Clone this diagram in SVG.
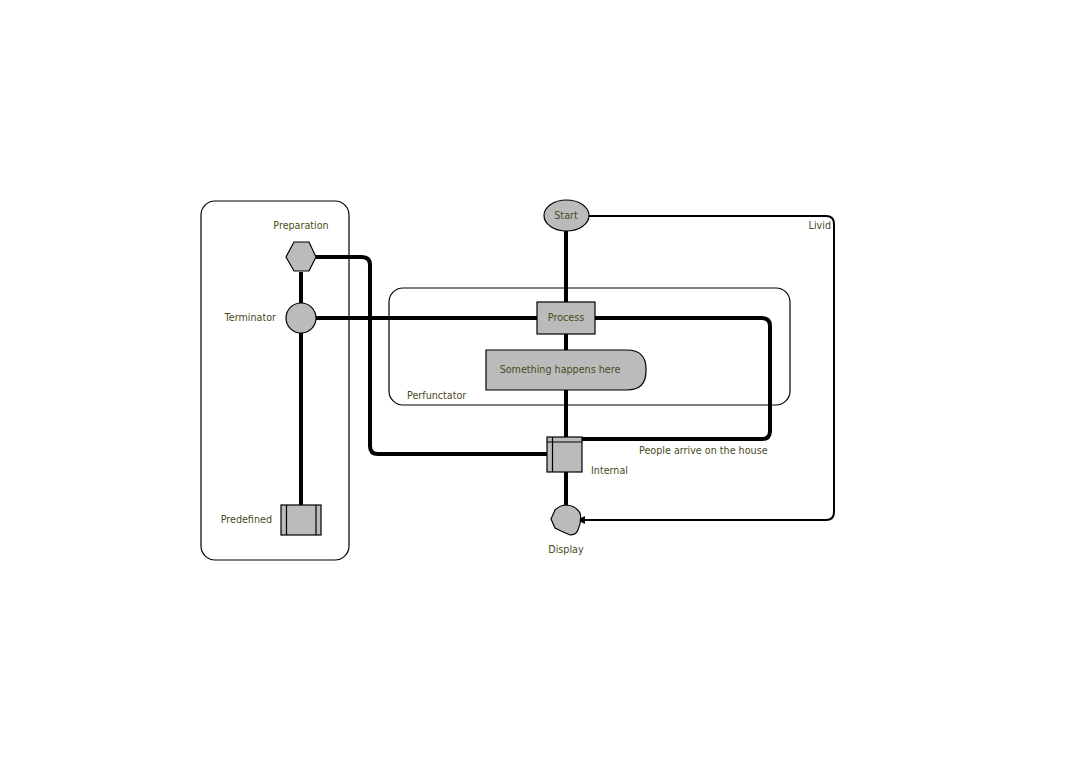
<svg xmlns="http://www.w3.org/2000/svg" width="1070" height="760" viewBox="0 0 1070 760">
<style>
.c{fill:none;stroke:#000;stroke-width:1.2}
.s{fill:#bbbbbb;stroke:#000;stroke-width:1.2}
.t{font-family:"DejaVu Sans",Verdana,sans-serif;font-size:9.6px;fill:#4a4a1c}
.m{text-anchor:middle}
.e{text-anchor:end}
.k{fill:none;stroke:#000;stroke-width:4;stroke-linejoin:round}
.n{fill:none;stroke:#000;stroke-width:2;stroke-linejoin:round}
</style>
<defs>
<marker id="ah" markerWidth="8" markerHeight="8" refX="7" refY="4" orient="auto" markerUnits="userSpaceOnUse">
<path d="M0,0 L8,4 L0,8 Z" fill="#000"/>
</marker>
</defs>
<rect width="1070" height="760" fill="#fff"/>
<g id="containers">
<rect id="left-container" class="c" x="201" y="201" width="148" height="359" rx="14"/>
<g id="perfunctator">
<rect class="c" x="389" y="288" width="401" height="117" rx="14"/>
<text class="t" x="407" y="399">Perfunctator</text>
</g>
</g>
<g id="connectors">
<path class="k" d="M301,272 V303"/>
<path class="k" d="M301,333 V505"/>
<path class="k" d="M316,257 H362 Q370,257 370,265 V446 Q370,454 378,454 H547"/>
<path class="k" d="M316,318 H537"/>
<path class="k" d="M595,318 H762 Q770,318 770,326 V431 Q770,439 762,439 H582"/>
<path class="k" d="M566,231 V302"/>
<path class="k" d="M566,334 V350"/>
<path class="k" d="M566,390 V437"/>
<path class="k" d="M566,472 V505"/>
<path class="n" d="M589,216 H826 Q834,216 834,224 V512 Q834,520 826,520 H578" marker-end="url(#ah)"/>
<text class="t" x="639" y="454">People arrive on the house</text>
<text class="t e" x="831" y="229">Livid</text>
</g>
<g id="preparation">
<polygon class="s" points="286,257 294,242 309,242 316,257 309,271 294,271"/>
<text class="t m" x="301" y="229">Preparation</text>
</g>
<g id="terminator">
<circle class="s" cx="301" cy="318" r="15"/>
<text class="t e" x="276" y="321">Terminator</text>
</g>
<g id="predefined">
<rect class="s" x="281" y="505" width="40" height="30"/>
<path class="c" d="M286.5,505 V535 M316,505 V535"/>
<text class="t e" x="272" y="523">Predefined</text>
</g>
<g id="start">
<ellipse class="s" cx="566.5" cy="215.5" rx="22.5" ry="15.5"/>
<text class="t m" x="566" y="219">Start</text>
</g>
<g id="process">
<rect class="s" x="537" y="302" width="58" height="32"/>
<text class="t m" x="566" y="321">Process</text>
</g>
<g id="something">
<path class="s" d="M486,350 H627 Q646,350 646,369 V371 Q646,390 627,390 H486 Z"/>
<text class="t m" x="560" y="373">Something happens here</text>
</g>
<g id="internal">
<rect class="s" x="547" y="437" width="35" height="35"/>
<path class="c" d="M552.5,437 V472 M547,442 H582"/>
<text class="t" x="591" y="474">Internal</text>
</g>
<g id="display">
<path class="s" d="M551,519 L555,510 Q560,505 567,505 Q576,506 580,513 Q582,520 578,530 Q576,535 570,535 L561,531 L555,528 Z"/>
<text class="t m" x="566" y="553">Display</text>
</g>
</svg>
